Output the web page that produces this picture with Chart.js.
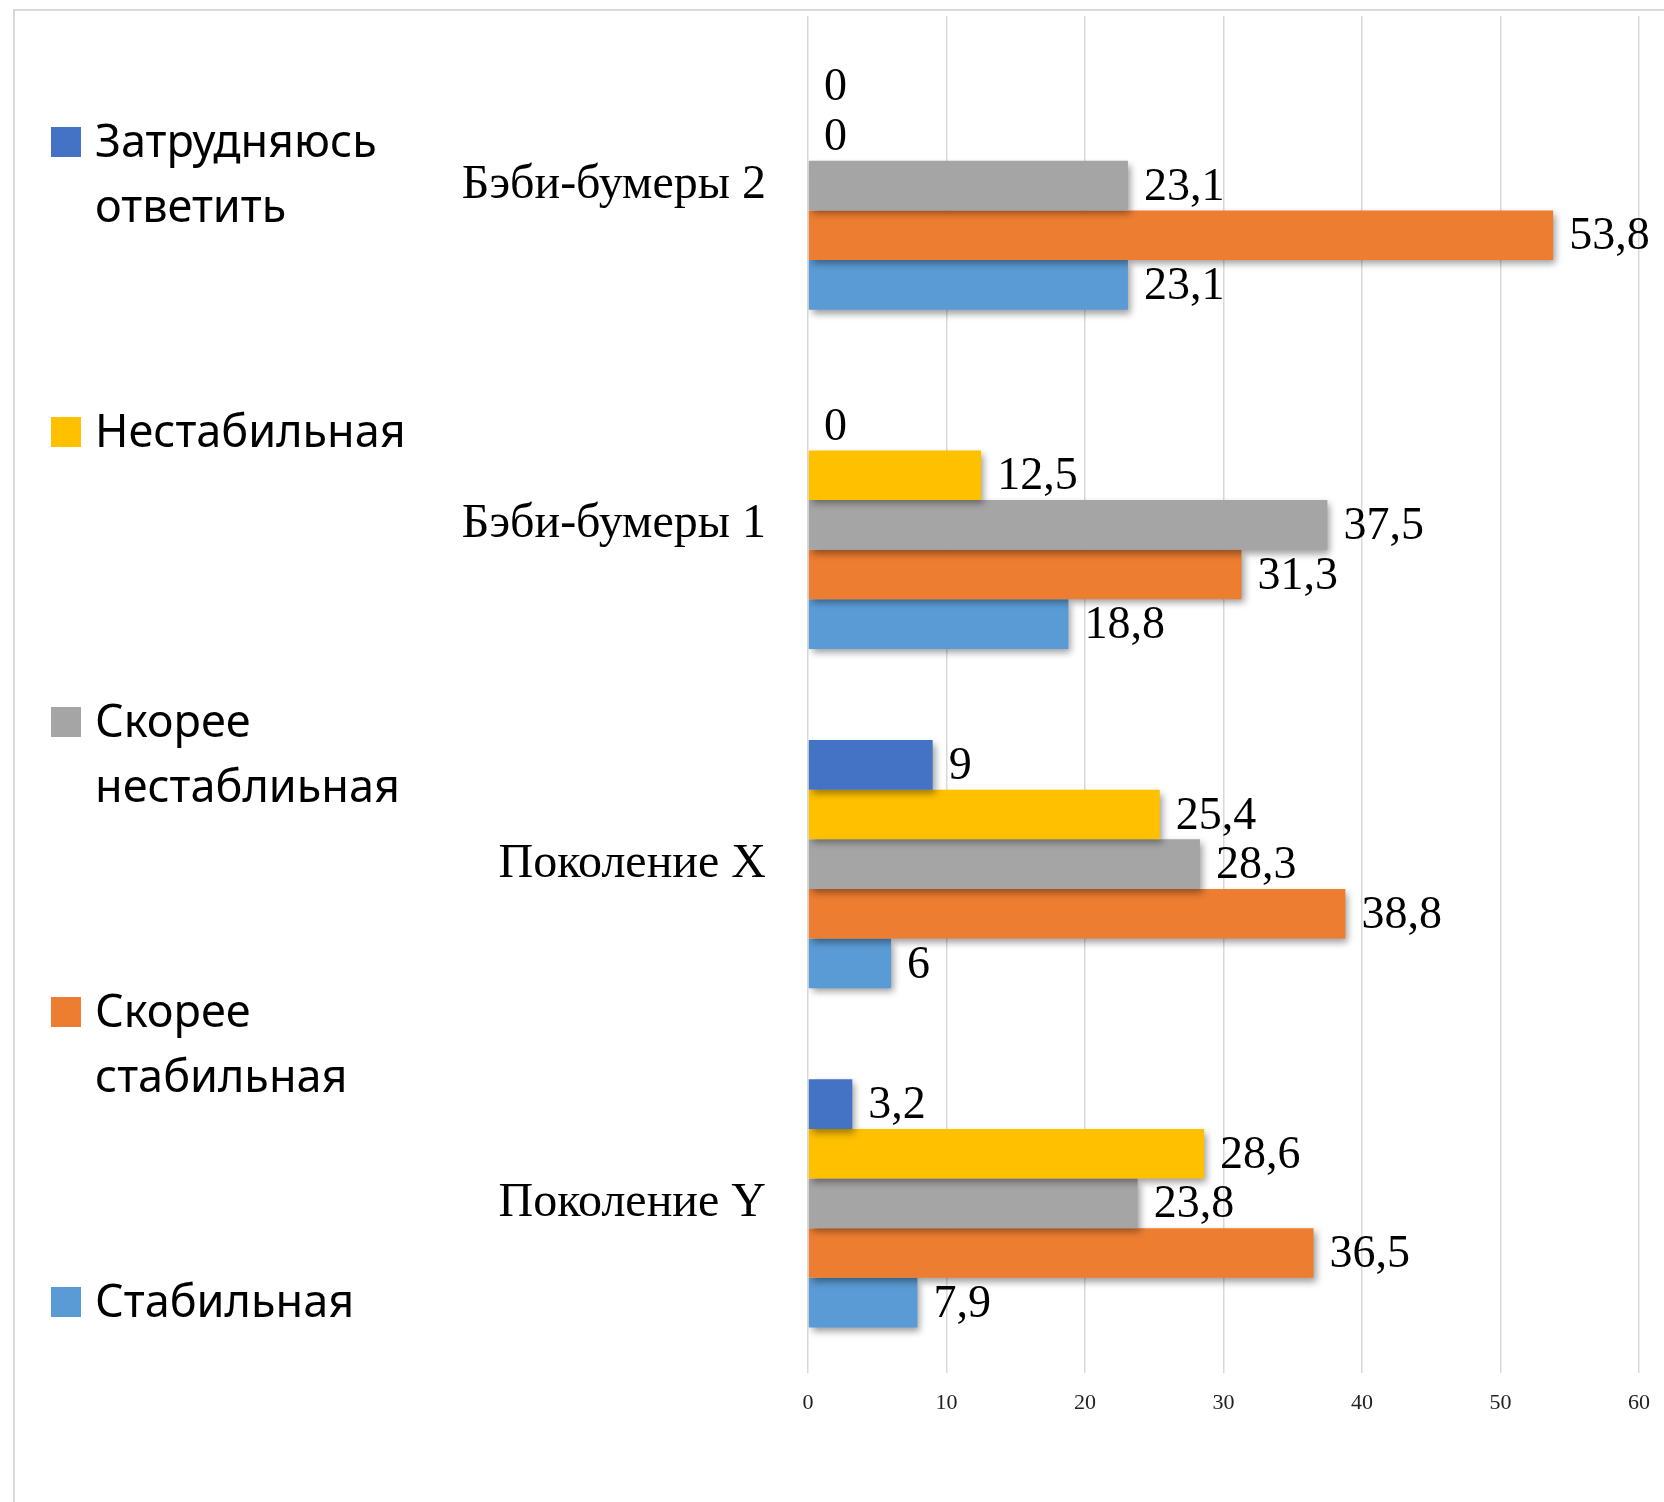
<!DOCTYPE html>
<html>
<head>
<meta charset="utf-8">
<script src="https://cdn.jsdelivr.net/npm/chart.js@4.4.1/dist/chart.umd.min.js"></script>
<style>
  html, body { margin: 0; padding: 0; background: #fff; }
</style>
</head>
<body>
<canvas id="chart" width="1664" height="1502"></canvas>
<script>
// категории и ряды
const generations = ['Бэби-бумеры 2', 'Бэби-бумеры 1', 'Поколение X', 'Поколение Y'];
const seriesNames = [
  ['Затрудняюсь', 'ответить'],
  ['Нестабильная'],
  ['Скорее', 'нестаблиьная'],
  ['Скорее', 'стабильная'],
  ['Стабильная']
];
const seriesColors = ['#4472C4', '#FFC000', '#A5A5A5', '#ED7D31', '#5B9BD5'];

const hardToSay      = [0, 0, 9, 3.2];
const unstable       = [0, 12.5, 25.4, 28.6];
const ratherUnstable = [23.1, 37.5, 28.3, 23.8];
const ratherStable   = [53.8, 31.3, 38.8, 36.5];
const stable         = [23.1, 18.8, 6, 7.9];

const xTicks = [0, 10, 20, 30, 40, 50, 60];

const seriesValues = [hardToSay, unstable, ratherUnstable, ratherStable, stable];

const datasets = seriesValues.map((vals, i) => ({
  label: seriesNames[i].join(' '),
  data: vals,
  backgroundColor: seriesColors[i],
  borderWidth: 0,
  categoryPercentage: 0.732,
  barPercentage: 1.0
}));

const serif = '"Liberation Serif", "Times New Roman", serif';
const fmt = v => String(v).replace('.', ',');

// рамка вокруг диаграммы
const framePlugin = {
  id: 'frame',
  beforeDraw(chart) {
    const ctx = chart.ctx;
    ctx.save();
    ctx.strokeStyle = '#d9d9d9';
    ctx.lineWidth = 2;
    ctx.beginPath();
    ctx.moveTo(14, chart.height);
    ctx.lineTo(14, 10);
    ctx.lineTo(chart.width, 10);
    ctx.stroke();
    ctx.restore();
  }
};

// тень у столбиков, как в Excel
const shadowPlugin = {
  id: 'barShadow',
  beforeDatasetsDraw(chart) {
    const ctx = chart.ctx;
    ctx.save();
    ctx.shadowColor = 'rgba(0,0,0,0.38)';
    ctx.shadowBlur = 7;
    ctx.shadowOffsetX = 3;
    ctx.shadowOffsetY = 4;
  },
  afterDatasetsDraw(chart) {
    chart.ctx.restore();
  }
};

// подписи значений и легенда слева
const labelsPlugin = {
  id: 'valueLabels',
  afterDraw(chart) {
    const ctx = chart.ctx;
    ctx.save();
    ctx.fillStyle = '#000';
    ctx.font = '46px ' + serif;
    ctx.textAlign = 'left';
    ctx.textBaseline = 'middle';
    chart.data.datasets.forEach((ds, di) => {
      const meta = chart.getDatasetMeta(di);
      meta.data.forEach((bar, i) => {
        ctx.fillText(fmt(ds.data[i]), bar.x + 16, bar.y + 2);
      });
    });

    ctx.font = '45px "Noto Sans", sans-serif';
    ctx.textBaseline = 'alphabetic';
    seriesNames.forEach((lines, i) => {
      const top = 127 + i * 290;
      ctx.fillStyle = seriesColors[i];
      ctx.fillRect(51, top, 30, 30);
      ctx.fillStyle = '#000';
      lines.forEach((line, j) => ctx.fillText(line, 95, top + 30 + j * 65));
    });
    ctx.restore();
  }
};

new Chart(document.getElementById('chart').getContext('2d'), {
  type: 'bar',
  data: { labels: generations, datasets: datasets },
  plugins: [framePlugin, shadowPlugin, labelsPlugin],
  options: {
    indexAxis: 'y',
    responsive: false,
    animation: false,
    devicePixelRatio: 1,
    layout: { padding: { top: 16, right: 25, left: 0, bottom: 0 } },
    plugins: {
      legend: { display: false },
      tooltip: { enabled: false }
    },
    scales: {
      x: {
        min: 0,
        max: 60,
        afterBuildTicks(scale) { scale.ticks = xTicks.map(v => ({ value: v })); },
        afterFit(scale) {
          scale.height = 129;
          scale.paddingLeft = 0;
          scale.paddingRight = 0;
        },
        grid: { color: '#d9d9d9', lineWidth: 1.5, drawTicks: false },
        border: { display: false },
        ticks: {
          padding: 17,
          color: '#222',
          font: { family: serif, size: 22 }
        }
      },
      y: {
        afterFit(scale) {
          scale.width = 808;
          scale.paddingTop = 0;
          scale.paddingBottom = 0;
        },
        grid: { display: false, drawTicks: false },
        border: { display: false },
        ticks: {
          padding: 42,
          color: '#000',
          font: { family: serif, size: 48 }
        }
      }
    }
  }
});
</script>
</body>
</html>
